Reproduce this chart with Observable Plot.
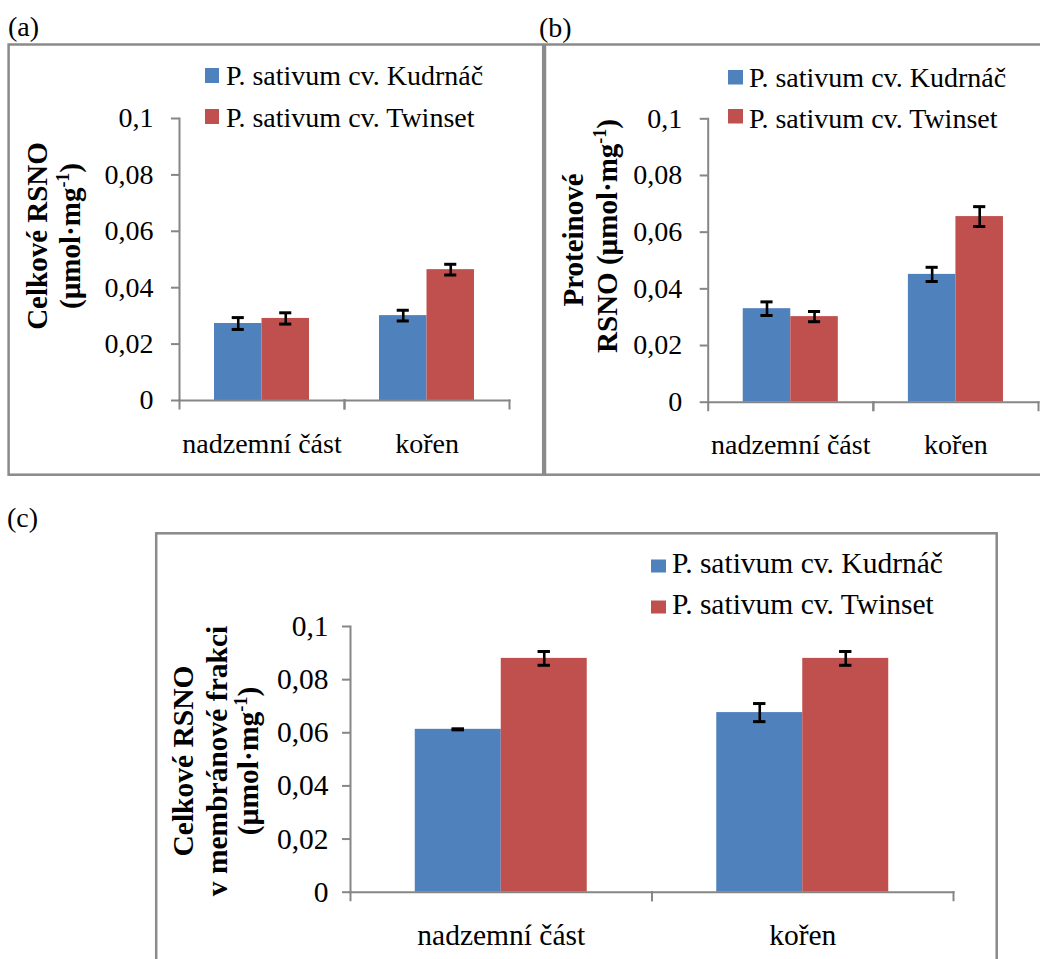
<!DOCTYPE html>
<html><head><meta charset="utf-8">
<script src="https://cdn.jsdelivr.net/npm/d3@7"></script>
<script src="https://cdn.jsdelivr.net/npm/@observablehq/plot@0.6"></script>
<style>
html,body{margin:0;padding:0;background:#fff;}
#root{position:relative;width:1040px;height:959px;overflow:hidden;background:#fff;}
#root svg{position:absolute;max-width:none;}
</style></head><body><div id="root"></div>
<script>
// ---- data ----
const categories = ["nadzemní část", "kořen"];
const cultivars = ["P. sativum cv. Kudrnáč", "P. sativum cv. Twinset"];
const colors = ["#4F81BD", "#C0504D"];
const yTicks = [0, 0.02, 0.04, 0.06, 0.08, 0.1];

// (a) Celkové RSNO
const aKudrnac = [0.0273, 0.0301];
const aKudrnacErr = [0.0021, 0.0019];
const aTwinset = [0.0291, 0.0464];
const aTwinsetErr = [0.0020, 0.0019];
// (b) Proteinové RSNO
const bKudrnac = [0.0330, 0.0451];
const bKudrnacErr = [0.0024, 0.0025];
const bTwinset = [0.0302, 0.0655];
const bTwinsetErr = [0.0018, 0.0035];
// (c) Celkové RSNO v membránové frakci
const cKudrnac = [0.0613, 0.0676];
const cKudrnacErr = [0.0002, 0.0034];
const cTwinset = [0.0880, 0.0880];
const cTwinsetErr = [0.0026, 0.0026];

const FONT = "'Liberation Serif', 'Times New Roman', serif";
const GRAY = "#868686";

function makeRows(k, kErr, t, tErr) {
  const rows = [];
  categories.forEach((cat, i) => {
    rows.push({cat, cultivar: cultivars[0], value: k[i], err: kErr[i]});
    rows.push({cat, cultivar: cultivars[1], value: t[i], err: tErr[i]});
  });
  return rows;
}
const fmt = d => d === 0 ? "0" : String(+d.toFixed(2)).replace(".", ",");

function panel(p) {
  const plotH = p.height - p.marginTop - p.marginBottom;
  return Plot.plot({
    width: p.width, height: p.height,
    marginLeft: p.marginLeft, marginRight: p.marginRight,
    marginTop: p.marginTop, marginBottom: p.marginBottom,
    style: {fontFamily: FONT, fontSize: p.font + "px", color: "black", background: "transparent", overflow: "visible"},
    fx: {domain: categories, padding: 0, round: false},
    x: {domain: cultivars, paddingInner: 0, paddingOuter: p.paddingOuter, round: false, axis: null},
    y: {domain: [0, 0.1], round: false},
    color: {domain: cultivars, range: colors},
    marks: [
      Plot.barY(p.rows, {fx: "cat", x: "cultivar", y: "value", fill: "cultivar"}),
      Plot.ruleX(p.rows, {fx: "cat", x: "cultivar", y1: d => d.value - d.err, y2: d => d.value + d.err, stroke: "black", strokeWidth: 2.6}),
      Plot.tickY(p.rows, {fx: "cat", x: "cultivar", y: d => d.value - d.err, stroke: "black", strokeWidth: 3, insetLeft: p.capInset, insetRight: p.capInset}),
      Plot.tickY(p.rows, {fx: "cat", x: "cultivar", y: d => d.value + d.err, stroke: "black", strokeWidth: 3, insetLeft: p.capInset, insetRight: p.capInset}),
      Plot.frame({anchor: "bottom", stroke: GRAY, strokeWidth: 2}),
      Plot.frame({anchor: "left", facetAnchor: "left", stroke: GRAY, strokeWidth: 2}),
      Plot.frame({anchor: "left", stroke: GRAY, strokeWidth: 2, insetTop: plotH, insetBottom: -8}),
      Plot.frame({anchor: "right", stroke: GRAY, strokeWidth: 2, insetTop: plotH, insetBottom: -8}),
      Plot.axisY({ticks: yTicks, tickSize: 8, tickPadding: p.tickPadding, tickFormat: fmt, stroke: GRAY, strokeWidth: 2, fill: "black", label: null, fontSize: p.font}),
      Plot.axisFx({anchor: "bottom", tickSize: 0, tickPadding: p.catPadding, label: null, fontSize: p.font, fill: "black"})
    ]
  });
}

function addTitle(svg, lines, cy, size) {
  const g = d3.select(svg).append("g").attr("font-family", FONT).attr("font-weight", "bold").attr("font-size", size).attr("fill", "black").attr("text-anchor", "middle");
  lines.forEach(l => {
    const t = g.append("text").attr("text-anchor", "middle").attr("transform", `translate(${l.x},${l.cy ?? cy}) rotate(-90)`);
    l.parts.forEach(part => {
      if (part.sup) {
        t.append("tspan").attr("font-size", size * 0.62).attr("dy", -size * 0.38).text(part.sup);
      } else {
        const s = t.append("tspan").text(part.text);
        if (part.after) s.attr("dy", size * 0.38);
      }
    });
  });
}
function addLegend(svg, L) {
  const g = d3.select(svg).append("g").attr("font-family", FONT).attr("font-size", L.font).attr("fill", "black").attr("text-anchor", "start");
  cultivars.forEach((c, i) => {
    g.append("rect").attr("x", L.sx).attr("y", L.sy[i]).attr("width", L.sw).attr("height", L.sh).attr("fill", colors[i]);
    g.append("text").attr("x", L.tx).attr("y", L.ty[i]).attr("text-anchor", "start").text(c);
  });
}
const unitParts = [{text: "(µmol·mg"}, {sup: "-1"}, {text: ")", after: true}];

const root = document.getElementById("root");

// ---- panel (a) ----
const A = panel({rows: makeRows(aKudrnac, aKudrnacErr, aTwinset, aTwinsetErr),
  width: 543, height: 476, marginLeft: 179, marginRight: 34, marginTop: 118, marginBottom: 76,
  font: 28, tickPadding: 18, catPadding: 33, capInset: 17.7, paddingOuter: 0.737});
A.style.left = "0px"; A.style.top = "0px";
root.appendChild(A);
addTitle(A, [{x: 46.5, parts: [{text: "Celkové RSNO"}]}, {x: 80, parts: unitParts}], 236, 29);
addLegend(A, {font: 28, sx: 205, sw: 14, sh: 15, sy: [68, 109], tx: 226, ty: [85, 126.7]});

// ---- panel (b) ----
const B = panel({rows: makeRows(bKudrnac, bKudrnacErr, bTwinset, bTwinsetErr),
  width: 494, height: 476, marginLeft: 161.7, marginRight: 2, marginTop: 118.3, marginBottom: 74.3,
  font: 28, tickPadding: 18, catPadding: 32, capInset: 17.7, paddingOuter: 0.737});
B.style.left = "546px"; B.style.top = "0px";
root.appendChild(B);
addTitle(B, [{x: 37, cy: 240, parts: [{text: "Proteinové"}]}, {x: 71, cy: 236, parts: [{text: "RSNO (µmol·mg"}, {sup: "-1"}, {text: ")", after: true}]}], 238, 29);
addLegend(B, {font: 28, sx: 182, sw: 15, sh: 14.5, sy: [70, 109], tx: 203, ty: [87.3, 127.7]});

// ---- panel (c) ----
const C = panel({rows: makeRows(cKudrnac, cKudrnacErr, cTwinset, cTwinsetErr),
  width: 1040, height: 423, marginLeft: 350, marginRight: 87, marginTop: 90, marginBottom: 67.3,
  font: 29.5, tickPadding: 14, catPadding: 32, capInset: 36.8, paddingOuter: 0.753});
C.style.left = "0px"; C.style.top = "536px";
root.appendChild(C);
addTitle(C, [{x: 193, parts: [{text: "Celkové RSNO"}]}, {x: 227, parts: [{text: "v membránové frakci"}]}, {x: 258, parts: unitParts}], 225, 29.5);
addLegend(C, {font: 29.5, sx: 651, sw: 15, sh: 13, sy: [23.5, 64.5], tx: 672, ty: [37.3, 78]});

// ---- frames and panel letters ----
const ov = d3.select(root).append("svg").attr("width", 1040).attr("height", 959).style("left", "0px").style("top", "0px");
const boxes = [
  {x1: 8.6, y1: 44.5, x2: 543.2, y2: 474.7},
  {x1: 545, y1: 44.5, x2: 1050, y2: 474.7},
  {x1: 156.2, y1: 533.3, x2: 996.7, y2: 970}
];
boxes.forEach(b => ov.append("rect").attr("x", b.x1).attr("y", b.y1).attr("width", b.x2 - b.x1).attr("height", b.y2 - b.y1)
  .attr("fill", "none").attr("stroke", "#8a8a8a").attr("stroke-width", 2.5));
const letters = [{t: "(a)", x: 8, y: 36}, {t: "(b)", x: 539, y: 36.7}, {t: "(c)", x: 7, y: 527}];
letters.forEach(l => ov.append("text").attr("x", l.x).attr("y", l.y).attr("font-family", FONT).attr("font-size", 28).attr("text-anchor", "start").text(l.t));
</script></body></html>
